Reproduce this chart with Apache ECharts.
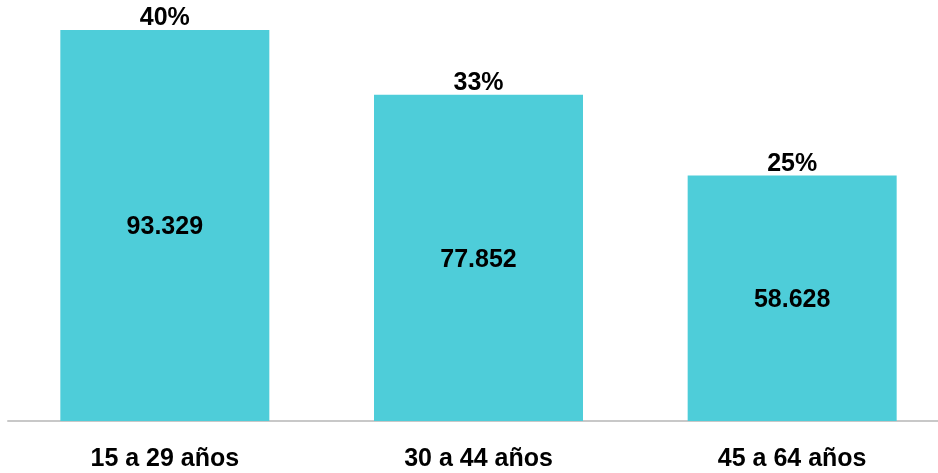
<!DOCTYPE html>
<html>
<head>
<meta charset="utf-8">
<script src="https://cdn.jsdelivr.net/npm/echarts@6/dist/echarts.min.js"></script>
<style>
  html, body { margin: 0; padding: 0; background: #fff; overflow: hidden; }
  #chart { width: 950px; height: 473px; }
</style>
</head>
<body>
<div id="chart"></div>
<script>
// grupos de edad
const categories = ["15 a 29 años", "30 a 44 años", "45 a 64 años"];
const values = [93329, 77852, 58628];
const valueLabels = ["93.329", "77.852", "58.628"];
const percents = ["40%", "33%", "25%"];

const font = "'Liberation Sans', Arial, sans-serif";
const barColor = "#4ecdd9";

const chart = echarts.init(document.getElementById("chart"));

chart.setOption({
  animation: false,
  grid: {
    left: 8,
    right: 1,
    top: 30,
    bottom: 52,
    containLabel: false,
  },
  xAxis: {
    type: "category",
    data: categories,
    axisLine: { lineStyle: { color: "#c8c8c8", width: 2 } },
    axisTick: { show: false },
    axisLabel: {
      color: "#000",
      fontFamily: font,
      fontWeight: "bold",
      fontSize: 25,
      margin: 26,
    },
  },
  yAxis: {
    type: "value",
    min: 0,
    max: 93329,
    show: false,
    splitLine: { show: false },
  },
  series: [
    {
      // solo para la etiqueta de porcentaje encima
      type: "bar",
      data: values,
      barWidth: 209,
      barGap: "-100%",
      itemStyle: { color: "rgba(0,0,0,0)" },
      silent: true,
      label: {
        show: true,
        position: "top",
        distance: -1,
        color: "#000",
        fontFamily: font,
        fontWeight: "bold",
        fontSize: 25,
        formatter: (p) => percents[p.dataIndex],
      },
    },
    {
      type: "bar",
      data: values,
      barWidth: 209,
      itemStyle: { color: barColor },
      label: {
        show: true,
        position: "inside",
        offset: [0, 2],
        color: "#000",
        fontFamily: font,
        fontWeight: "bold",
        fontSize: 25,
        formatter: (p) => valueLabels[p.dataIndex],
      },
    },
  ],
});

window.addEventListener("resize", () => {
  chart.resize();
});
</script>
</body>
</html>
